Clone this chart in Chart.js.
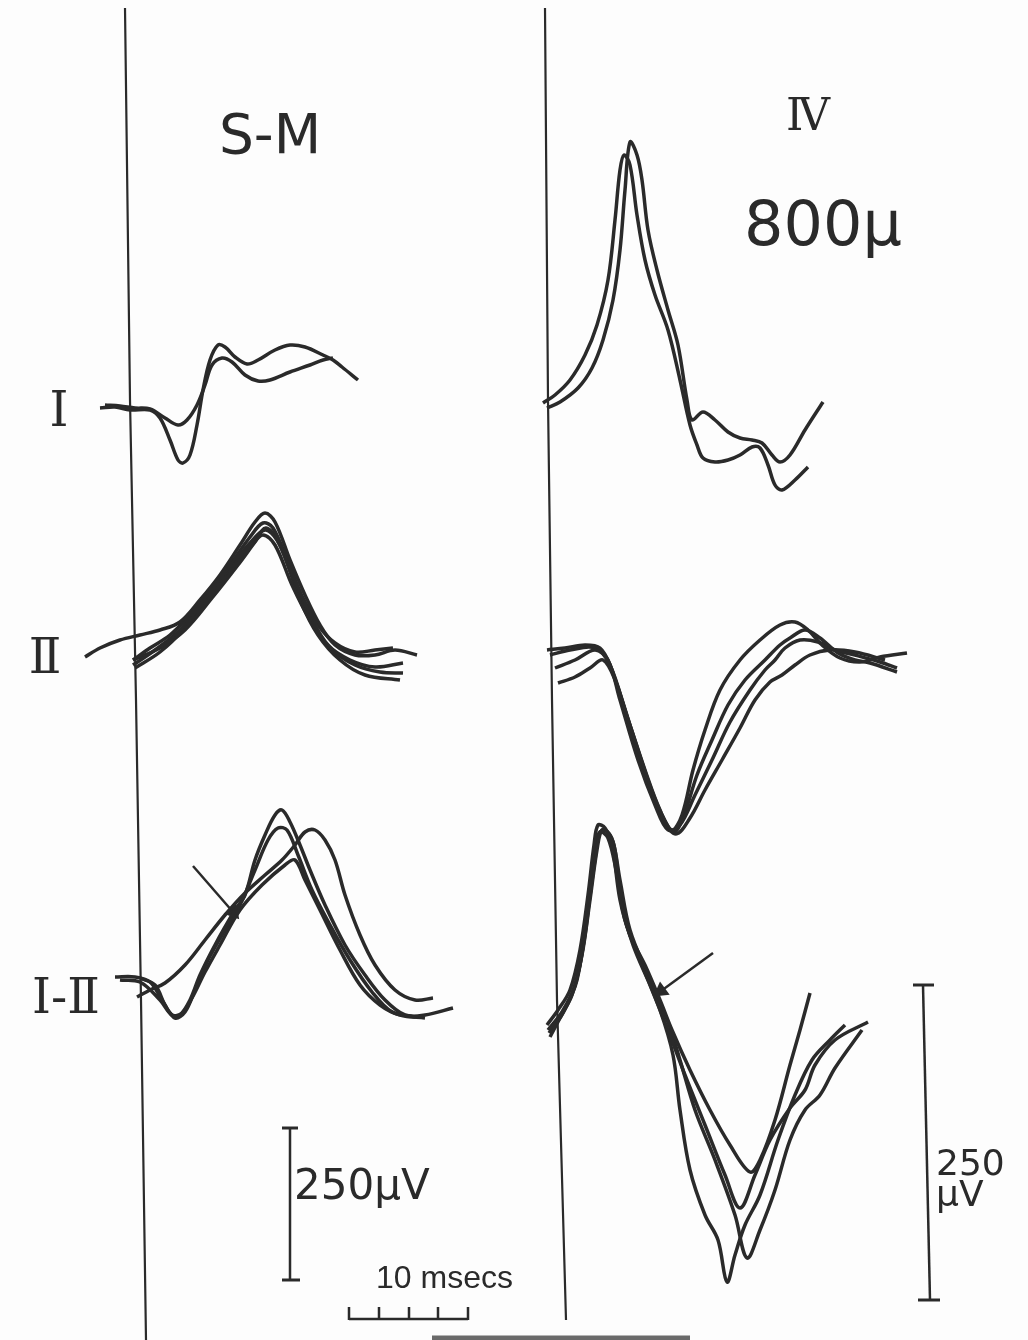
<!DOCTYPE html>
<html>
<head>
<meta charset="utf-8">
<script src="https://cdn.jsdelivr.net/npm/chart.js@4"></script>
<style>
  html, body { margin: 0; padding: 0; background: #fdfdfd; }
  canvas { display: block; }
</style>
</head>
<body>
<canvas id="fig" width="1028" height="1340"></canvas>
<script>
// figure units: x 0..1028 left->right, y 0..1340 top->bottom

// S-M, row I
const smI_a = [[100,408],[115,407],[130,410],[150,410],[160,418],[170,440],[178,460],[183,463],[190,455],[197,425],[203,390],[210,360],[218,345],[225,347],[235,357],[247,364],[258,360],[275,350],[290,345],[305,347],[323,355],[333,360],[342,367],[358,380]];
const smI_b = [[105,405],[120,406],[135,408],[150,409],[165,418],[178,425],[187,420],[197,405],[205,385],[212,365],[222,358],[232,362],[245,375],[258,381],[270,380],[290,372],[310,365],[323,360],[333,358]];

// S-M, row II
const smII_1 = [[85,657],[100,648],[120,640],[140,635],[160,630],[180,622],[200,600],[220,575],[240,545],[255,522],[265,513],[275,522],[290,560],[305,595],[320,625],[335,645],[355,655],[375,655],[395,650],[417,655]];
const smII_2 = [[133,660],[150,648],[170,635],[190,615],[210,592],[230,565],[250,537],[263,523],[273,528],[288,562],[303,598],[318,625],[335,643],[355,652],[375,650],[393,648]];
const smII_3 = [[133,665],[155,650],[180,630],[205,600],[230,568],[250,543],[265,530],[277,540],[292,575],[310,615],[328,645],[350,660],[375,667],[403,663]];
const smII_4 = [[135,668],[160,652],[185,628],[210,597],[235,565],[252,545],[263,535],[275,545],[292,585],[310,620],[330,648],[355,665],[380,672],[403,673]];
const smII_5 = [[133,660],[160,648],[185,630],[212,598],[238,565],[255,542],[266,528],[280,545],[300,600],[318,635],[340,660],[365,675],[400,680]];

// S-M, row I-II
const smIII_1 = [[115,977],[135,977],[150,982],[162,1000],[172,1015],[180,1015],[190,1000],[200,975],[215,945],[235,910],[245,895],[255,860],[265,835],[275,815],[282,810],[290,822],[300,845],[310,870],[325,905],[345,945],[365,975],[385,1000],[405,1015],[425,1015],[453,1008]];
const smIII_2 = [[140,978],[155,985],[165,1005],[175,1018],[185,1012],[195,990],[208,960],[225,930],[240,905],[255,870],[268,840],[278,828],[287,830],[298,855],[312,890],[330,925],[350,960],[372,992],[392,1012],[415,1017]];
const smIII_3 = [[137,997],[150,990],[165,983],[185,965],[205,940],[225,915],[245,893],[265,875],[282,860],[295,845],[305,832],[315,830],[325,840],[335,860],[345,895],[360,935],[375,965],[395,990],[415,1000],[433,998]];
const smIII_4 = [[120,980],[140,982],[160,1000],[172,1015],[182,1013],[192,998],[205,972],[220,945],[240,910],[262,885],[285,865],[295,860],[305,880],[320,910],[340,950],[360,985],[380,1005],[400,1015],[425,1018]];

// IV 800u, row I
const ivI_a = [[543,403],[555,395],[570,380],[585,355],[597,325],[608,280],[615,220],[620,170],[624,155],[630,165],[637,215],[645,260],[655,295],[668,330],[680,380],[690,425],[697,445],[703,458],[715,462],[728,460],[740,455],[752,447],[760,448],[768,465],[775,485],[782,490],[795,480],[808,467]];
const ivI_b = [[547,408],[560,402],[578,388],[592,368],[603,340],[613,300],[620,250],[625,190],[630,142],[637,155],[642,180],[648,230],[657,270],[668,310],[678,345],[687,400],[692,420],[703,412],[715,420],[728,432],[740,438],[752,440],[762,443],[772,455],[780,462],[790,455],[805,430],[823,402]];

// IV 800u, row II
const ivII_1 = [[547,650],[565,648],[585,645],[600,648],[610,665],[625,710],[645,770],[660,810],[672,830],[682,815],[693,770],[705,730],[720,690],[740,660],[760,640],[780,625],[795,622],[808,630],[822,645],[840,658],[860,662],[880,657],[907,653]];
const ivII_2 = [[558,683],[575,677],[590,668],[603,660],[615,680],[630,725],[648,780],[662,815],[674,832],[684,815],[697,775],[712,740],[728,705],[745,680],[765,660],[780,645],[790,638],[805,630],[820,638],[838,653],[855,660],[870,663],[897,672]];
const ivII_3 = [[555,668],[575,660],[595,650],[608,660],[620,700],[638,760],[655,805],[668,830],[680,825],[695,795],[712,760],[730,722],[750,690],[765,670],[775,660],[785,648],[800,640],[818,642],[835,650],[855,655],[880,662],[897,668]];
const ivII_4 = [[550,655],[570,650],[595,648],[610,665],[628,720],[646,775],[662,818],[676,834],[690,818],[705,790],[722,760],[740,728],[755,700],[770,682],[782,675],[795,665],[810,655],[830,650],[855,652],[885,660]];

// IV 800u, row I-II
const ivIII_1 = [[547,1025],[558,1010],[570,990],[580,950],[588,895],[594,845],[598,825],[605,828],[612,845],[620,900],[630,935],[645,965],[660,1000],[672,1030],[690,1070],[710,1110],[730,1145],[750,1172],[760,1160],[775,1120],[790,1065],[800,1030],[810,993]];
const ivIII_2 = [[550,1037],[560,1018],[572,995],[582,955],[590,900],[597,850],[602,830],[610,835],[615,850],[622,905],[633,945],[650,985],[668,1030],[685,1075],[705,1125],[725,1175],[740,1208],[755,1175],[770,1140],[790,1108],[805,1090],[815,1065],[835,1040],[868,1022]];
const ivIII_3 = [[548,1030],[562,1012],[575,985],[585,935],[592,875],[598,835],[605,830],[613,842],[620,880],[630,930],[648,975],[668,1022],[680,1060],[695,1110],[715,1160],[735,1215],[747,1258],[760,1230],[775,1190],[790,1140],[805,1110],[820,1095],[835,1068],[862,1030]];
const ivIII_4 = [[549,1033],[563,1013],[577,980],[588,910],[595,860],[600,832],[608,838],[616,870],[625,920],[640,960],[660,1010],[673,1055],[680,1110],[690,1170],[705,1215],[718,1240],[727,1282],[735,1255],[745,1225],[760,1195],[778,1140],[795,1095],[812,1060],[830,1040],[845,1025]];

// frame lines, arrows and calibration bars
const leftBase = [[125,8],[130,400],[136,700],[141,1000],[146,1340]];
const rightBase = [[545,8],[548,400],[552,700],[557,1000],[566,1320]];
const arrowLeft = [[193,866],[233,912]];
const arrowRight = [[713,953],[661,991]];
const uvBarLeft = [[290,1128],[290,1280]];
const uvCapsLeft = [[[282,1128],[298,1128]], [[282,1280],[300,1280]]];
const uvBarRight = [[923,985],[930,1300]];
const uvCapsRight = [[[913,985],[934,985]], [[918,1300],[940,1300]]];
const msBar = [[349,1319],[468,1319]];
const msTicks = [349, 379, 409, 438, 468];
const bottomEdge = [[432,1338],[690,1338]];

const labels = [
  { text: "S-M", x: 270, y: 153, size: 55, font: "DejaVu Sans", align: "center" },
  { text: "Ⅳ", x: 808, y: 130, size: 44, font: "DejaVu Serif", align: "center" },
  { text: "800μ", x: 823, y: 245, size: 62, font: "DejaVu Sans", align: "center" },
  { text: "Ⅰ", x: 59, y: 426, size: 48, font: "DejaVu Serif", align: "center" },
  { text: "Ⅱ", x: 45, y: 673, size: 48, font: "DejaVu Serif", align: "center" },
  { text: "Ⅰ-Ⅱ", x: 66, y: 1013, size: 48, font: "DejaVu Serif", align: "center" },
  { text: "250μV", x: 294, y: 1199, size: 42, font: "DejaVu Sans", align: "left" },
  { text: "10 msecs", x: 376, y: 1288, size: 32, font: "Liberation Sans", align: "left" },
  { text: "250", x: 936, y: 1175, size: 36, font: "DejaVu Sans", align: "left" },
  { text: "μV", x: 936, y: 1206, size: 36, font: "DejaVu Sans", align: "left" },
];

const ink = "#2a2a2a";
const toPts = arr => arr.map(p => ({ x: p[0], y: p[1] }));

function trace(arr) {
  return { data: toPts(arr), borderColor: ink, borderWidth: 3.5, tension: 0.35, pointRadius: 0, showLine: true, fill: false };
}
function rule(arr, width) {
  return { data: toPts(arr), borderColor: ink, borderWidth: width, tension: 0, pointRadius: 0, showLine: true, fill: false };
}
function arrow(arr, angle) {
  return {
    data: toPts(arr), borderColor: ink, backgroundColor: ink, borderWidth: 2.5, tension: 0, showLine: true,
    pointStyle: "triangle", pointRadius: [0, 7], rotation: angle,
  };
}

const datasets = [
  rule(leftBase, 2.2), rule(rightBase, 2.2),
  trace(smI_a), trace(smI_b),
  trace(smII_1), trace(smII_2), trace(smII_3), trace(smII_4), trace(smII_5),
  trace(smIII_1), trace(smIII_2), trace(smIII_3), trace(smIII_4),
  trace(ivI_a), trace(ivI_b),
  trace(ivII_1), trace(ivII_2), trace(ivII_3), trace(ivII_4),
  trace(ivIII_1), trace(ivIII_2), trace(ivIII_3), trace(ivIII_4),
  arrow(arrowLeft, 139), arrow(arrowRight, 234),
  rule(uvBarLeft, 2.5), rule(uvCapsLeft[0], 3), rule(uvCapsLeft[1], 3),
  rule(uvBarRight, 2.5), rule(uvCapsRight[0], 3), rule(uvCapsRight[1], 3),
  rule(msBar, 2.5),
];
msTicks.forEach(x => datasets.push(rule([[x, 1307], [x, 1320]], 2.5)));
datasets.push({ ...rule(bottomEdge, 5), borderColor: "#6a6a6a" });

const textPlugin = {
  id: "figText",
  afterDatasetsDraw(chart) {
    const { ctx, scales } = chart;
    ctx.save();
    ctx.fillStyle = ink;
    ctx.textBaseline = "alphabetic";
    labels.forEach(l => {
      ctx.font = `${l.size}px "${l.font}"`;
      ctx.textAlign = l.align;
      ctx.fillText(l.text, scales.x.getPixelForValue(l.x), scales.y.getPixelForValue(l.y));
    });
    ctx.restore();
  }
};

new Chart(document.getElementById("fig"), {
  type: "scatter",
  data: { datasets: datasets },
  options: {
    responsive: false,
    animation: false,
    events: [],
    layout: { padding: 0, autoPadding: false },
    clip: false,
    plugins: { legend: { display: false }, tooltip: { enabled: false } },
    scales: {
      x: { type: "linear", min: 0, max: 1028, display: false },
      y: { type: "linear", min: 0, max: 1340, reverse: true, display: false },
    },
  },
  plugins: [textPlugin],
});
</script>
</body>
</html>
